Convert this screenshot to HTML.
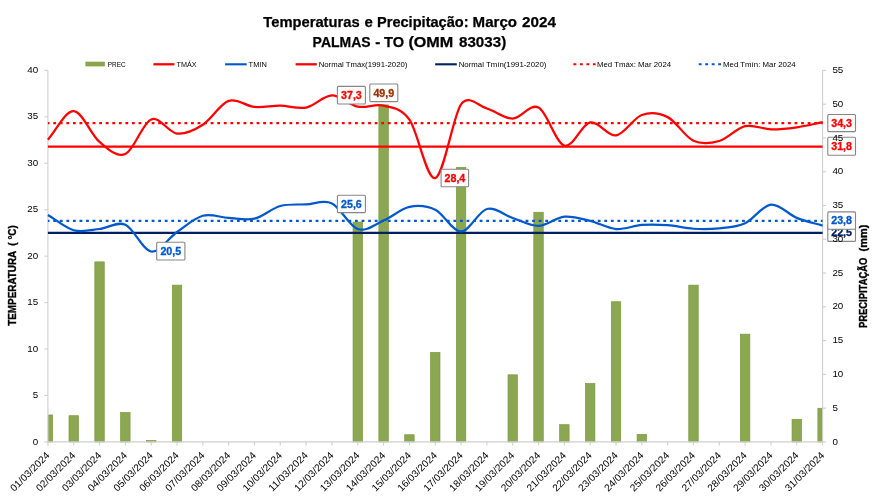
<!DOCTYPE html><html><head><meta charset="utf-8"><title>Temperaturas e Precipitação</title>
<style>html,body{margin:0;padding:0;background:#fff;overflow:hidden}svg{display:block;will-change:transform}text{font-family:"Liberation Sans", sans-serif;fill:#000}</style></head><body>
<svg width="874" height="497" viewBox="0 0 874 497">
<rect width="874" height="497" fill="#fff"/>
<text x="263.3" y="26.7" font-size="14.5" font-weight="bold" stroke="#000" stroke-width="0.25" textLength="96.3" lengthAdjust="spacingAndGlyphs">Temperaturas</text>
<text x="364.6" y="26.7" font-size="14.5" font-weight="bold" stroke="#000" stroke-width="0.25" textLength="8.3" lengthAdjust="spacingAndGlyphs">e</text>
<text x="377.0" y="26.7" font-size="14.5" font-weight="bold" stroke="#000" stroke-width="0.25" textLength="91.6" lengthAdjust="spacingAndGlyphs">Precipitação:</text>
<text x="472.6" y="26.7" font-size="14.5" font-weight="bold" stroke="#000" stroke-width="0.25" textLength="44.4" lengthAdjust="spacingAndGlyphs">Março</text>
<text x="522.0" y="26.7" font-size="14.5" font-weight="bold" stroke="#000" stroke-width="0.25" textLength="33.9" lengthAdjust="spacingAndGlyphs">2024</text>
<text x="312.6" y="47.0" font-size="14.5" font-weight="bold" stroke="#000" stroke-width="0.25" textLength="58.0" lengthAdjust="spacingAndGlyphs">PALMAS</text>
<text x="375.2" y="47.0" font-size="14.5" font-weight="bold" stroke="#000" stroke-width="0.25" textLength="5.1" lengthAdjust="spacingAndGlyphs">-</text>
<text x="384.0" y="47.0" font-size="14.5" font-weight="bold" stroke="#000" stroke-width="0.25" textLength="20.0" lengthAdjust="spacingAndGlyphs">TO</text>
<text x="408.4" y="47.0" font-size="14.5" font-weight="bold" stroke="#000" stroke-width="0.25" textLength="44.9" lengthAdjust="spacingAndGlyphs">(OMM</text>
<text x="459.0" y="47.0" font-size="14.5" font-weight="bold" stroke="#000" stroke-width="0.25" textLength="47.2" lengthAdjust="spacingAndGlyphs">83033)</text>
<rect x="48.25" y="414.96" width="4.37" height="26.94" fill="#8BA751" stroke="#7B993F" stroke-width="0.7"/>
<rect x="69.00" y="415.70" width="9.45" height="26.20" fill="#8BA751" stroke="#7B993F" stroke-width="0.7"/>
<rect x="94.82" y="261.90" width="9.45" height="180.00" fill="#8BA751" stroke="#7B993F" stroke-width="0.7"/>
<rect x="120.64" y="412.53" width="9.45" height="29.37" fill="#8BA751" stroke="#7B993F" stroke-width="0.7"/>
<rect x="146.47" y="440.56" width="9.45" height="1.34" fill="#8BA751" stroke="#7B993F" stroke-width="0.7"/>
<rect x="172.29" y="285.14" width="9.45" height="156.76" fill="#8BA751" stroke="#7B993F" stroke-width="0.7"/>
<rect x="353.06" y="222.05" width="9.45" height="219.85" fill="#8BA751" stroke="#7B993F" stroke-width="0.7"/>
<rect x="378.88" y="104.86" width="9.45" height="337.04" fill="#8BA751" stroke="#7B993F" stroke-width="0.7"/>
<rect x="404.70" y="434.75" width="9.45" height="7.15" fill="#8BA751" stroke="#7B993F" stroke-width="0.7"/>
<rect x="430.53" y="352.41" width="9.45" height="89.49" fill="#8BA751" stroke="#7B993F" stroke-width="0.7"/>
<rect x="456.35" y="167.34" width="9.45" height="274.56" fill="#8BA751" stroke="#7B993F" stroke-width="0.7"/>
<rect x="508.00" y="374.84" width="9.45" height="67.06" fill="#8BA751" stroke="#7B993F" stroke-width="0.7"/>
<rect x="533.82" y="212.26" width="9.45" height="229.64" fill="#8BA751" stroke="#7B993F" stroke-width="0.7"/>
<rect x="559.64" y="424.69" width="9.45" height="17.21" fill="#8BA751" stroke="#7B993F" stroke-width="0.7"/>
<rect x="585.46" y="383.49" width="9.45" height="58.41" fill="#8BA751" stroke="#7B993F" stroke-width="0.7"/>
<rect x="611.29" y="301.76" width="9.45" height="140.14" fill="#8BA751" stroke="#7B993F" stroke-width="0.7"/>
<rect x="637.11" y="434.35" width="9.45" height="7.55" fill="#8BA751" stroke="#7B993F" stroke-width="0.7"/>
<rect x="688.76" y="285.14" width="9.45" height="156.76" fill="#8BA751" stroke="#7B993F" stroke-width="0.7"/>
<rect x="740.40" y="334.18" width="9.45" height="107.72" fill="#8BA751" stroke="#7B993F" stroke-width="0.7"/>
<rect x="792.05" y="419.28" width="9.45" height="22.62" fill="#8BA751" stroke="#7B993F" stroke-width="0.7"/>
<rect x="817.88" y="408.27" width="4.38" height="33.63" fill="#8BA751" stroke="#7B993F" stroke-width="0.7"/>
<g stroke="#CFCFCF" stroke-width="1.1" fill="none">
<line x1="47.9" y1="70.4" x2="47.9" y2="441.9"/>
<line x1="822.6" y1="70.4" x2="822.6" y2="441.9"/>
<line x1="47.9" y1="441.9" x2="822.6" y2="441.9"/>
<line x1="44.4" y1="441.90" x2="47.9" y2="441.90"/>
<line x1="44.4" y1="395.46" x2="47.9" y2="395.46"/>
<line x1="44.4" y1="349.02" x2="47.9" y2="349.02"/>
<line x1="44.4" y1="302.59" x2="47.9" y2="302.59"/>
<line x1="44.4" y1="256.15" x2="47.9" y2="256.15"/>
<line x1="44.4" y1="209.71" x2="47.9" y2="209.71"/>
<line x1="44.4" y1="163.27" x2="47.9" y2="163.27"/>
<line x1="44.4" y1="116.84" x2="47.9" y2="116.84"/>
<line x1="44.4" y1="70.40" x2="47.9" y2="70.40"/>
<line x1="822.6" y1="441.90" x2="826.1" y2="441.90"/>
<line x1="822.6" y1="408.13" x2="826.1" y2="408.13"/>
<line x1="822.6" y1="374.35" x2="826.1" y2="374.35"/>
<line x1="822.6" y1="340.58" x2="826.1" y2="340.58"/>
<line x1="822.6" y1="306.81" x2="826.1" y2="306.81"/>
<line x1="822.6" y1="273.04" x2="826.1" y2="273.04"/>
<line x1="822.6" y1="239.26" x2="826.1" y2="239.26"/>
<line x1="822.6" y1="205.49" x2="826.1" y2="205.49"/>
<line x1="822.6" y1="171.72" x2="826.1" y2="171.72"/>
<line x1="822.6" y1="137.95" x2="826.1" y2="137.95"/>
<line x1="822.6" y1="104.17" x2="826.1" y2="104.17"/>
<line x1="822.6" y1="70.40" x2="826.1" y2="70.40"/>
<line x1="47.90" y1="441.9" x2="47.90" y2="445.4"/>
<line x1="73.72" y1="441.9" x2="73.72" y2="445.4"/>
<line x1="99.55" y1="441.9" x2="99.55" y2="445.4"/>
<line x1="125.37" y1="441.9" x2="125.37" y2="445.4"/>
<line x1="151.19" y1="441.9" x2="151.19" y2="445.4"/>
<line x1="177.02" y1="441.9" x2="177.02" y2="445.4"/>
<line x1="202.84" y1="441.9" x2="202.84" y2="445.4"/>
<line x1="228.66" y1="441.9" x2="228.66" y2="445.4"/>
<line x1="254.49" y1="441.9" x2="254.49" y2="445.4"/>
<line x1="280.31" y1="441.9" x2="280.31" y2="445.4"/>
<line x1="306.13" y1="441.9" x2="306.13" y2="445.4"/>
<line x1="331.96" y1="441.9" x2="331.96" y2="445.4"/>
<line x1="357.78" y1="441.9" x2="357.78" y2="445.4"/>
<line x1="383.60" y1="441.9" x2="383.60" y2="445.4"/>
<line x1="409.43" y1="441.9" x2="409.43" y2="445.4"/>
<line x1="435.25" y1="441.9" x2="435.25" y2="445.4"/>
<line x1="461.07" y1="441.9" x2="461.07" y2="445.4"/>
<line x1="486.90" y1="441.9" x2="486.90" y2="445.4"/>
<line x1="512.72" y1="441.9" x2="512.72" y2="445.4"/>
<line x1="538.54" y1="441.9" x2="538.54" y2="445.4"/>
<line x1="564.37" y1="441.9" x2="564.37" y2="445.4"/>
<line x1="590.19" y1="441.9" x2="590.19" y2="445.4"/>
<line x1="616.01" y1="441.9" x2="616.01" y2="445.4"/>
<line x1="641.84" y1="441.9" x2="641.84" y2="445.4"/>
<line x1="667.66" y1="441.9" x2="667.66" y2="445.4"/>
<line x1="693.48" y1="441.9" x2="693.48" y2="445.4"/>
<line x1="719.31" y1="441.9" x2="719.31" y2="445.4"/>
<line x1="745.13" y1="441.9" x2="745.13" y2="445.4"/>
<line x1="770.95" y1="441.9" x2="770.95" y2="445.4"/>
<line x1="796.78" y1="441.9" x2="796.78" y2="445.4"/>
<line x1="822.60" y1="441.9" x2="822.60" y2="445.4"/>
</g>
<line x1="47.9" y1="146.56" x2="822.6" y2="146.56" stroke="#FF0000" stroke-width="2.15"/>
<line x1="47.9" y1="232.93" x2="822.6" y2="232.93" stroke="#002060" stroke-width="2.35"/>
<line x1="47.9" y1="123.06" x2="822.6" y2="123.06" stroke="#FF0000" stroke-width="2.3" stroke-dasharray="2.8 3.76" stroke-dashoffset="1.2"/>
<line x1="47.9" y1="220.95" x2="822.6" y2="220.95" stroke="#0058CC" stroke-width="2.2" stroke-dasharray="2.8 3.76" stroke-dashoffset="1.2"/>
<path d="M47.90,139.68 C56.51,130.18 65.12,110.80 73.72,111.17 C82.33,111.54 90.94,134.78 99.55,141.91 C108.15,149.05 116.76,157.73 125.37,153.99 C133.98,150.24 142.59,122.84 151.19,119.44 C159.80,116.03 168.41,132.67 177.02,133.55 C185.62,134.44 194.23,130.18 202.84,124.73 C211.45,119.28 220.06,103.82 228.66,100.86 C237.27,97.91 245.88,106.19 254.49,106.99 C263.09,107.80 271.70,105.60 280.31,105.69 C288.92,105.79 297.53,109.25 306.13,107.55 C314.74,105.85 323.35,95.63 331.96,95.48 C340.56,95.32 349.17,104.92 357.78,106.62 C366.39,108.32 375.00,103.53 383.60,105.69 C392.21,107.86 400.91,107.68 409.43,119.62 C417.94,131.57 426.64,180.69 435.25,178.13 C443.86,175.58 453.28,114.81 461.07,104.30 C468.86,93.79 478.29,106.08 486.90,108.48 C495.50,110.88 504.11,118.85 512.72,118.69 C521.33,118.54 529.94,103.06 538.54,107.55 C547.15,112.04 555.76,143.15 564.37,145.63 C572.97,148.11 581.58,124.11 590.19,122.41 C598.80,120.71 607.41,136.65 616.01,135.41 C624.62,134.17 633.23,118.03 641.84,114.98 C650.44,111.93 659.05,112.81 667.66,117.12 C676.27,121.42 684.88,136.82 693.48,140.80 C702.09,144.78 710.70,143.43 719.31,140.98 C727.91,138.54 736.52,128.06 745.13,126.12 C753.74,124.19 762.35,129.17 770.95,129.38 C779.56,129.58 788.17,128.52 796.78,127.33 C805.38,126.14 813.99,123.93 822.60,122.22" fill="none" stroke="#FF0000" stroke-width="2.25" stroke-linecap="butt" stroke-linejoin="round"/>
<path d="M47.90,215.01 C56.51,220.08 65.12,227.90 73.72,230.24 C82.33,232.58 90.94,229.96 99.55,229.03 C108.15,228.10 116.76,220.92 125.37,224.67 C133.98,228.41 142.59,250.28 151.19,251.51 C159.80,252.73 168.41,237.96 177.02,232.00 C185.62,226.04 194.23,218.10 202.84,215.75 C211.45,213.40 220.06,217.41 228.66,217.89 C237.27,218.37 245.88,220.61 254.49,218.63 C263.09,216.65 271.70,208.37 280.31,206.00 C288.92,203.63 297.53,204.85 306.13,204.42 C314.74,203.99 323.35,199.30 331.96,203.40 C340.56,207.50 349.17,226.17 357.78,229.03 C366.39,231.89 375.00,224.26 383.60,220.58 C392.21,216.89 400.82,208.74 409.43,206.93 C418.03,205.12 426.64,205.63 435.25,209.71 C443.86,213.80 452.47,231.57 461.07,231.45 C469.68,231.32 478.29,211.20 486.90,208.97 C495.50,206.74 504.11,215.25 512.72,218.07 C521.33,220.89 529.94,226.10 538.54,225.87 C547.15,225.64 555.76,217.51 564.37,216.68 C572.97,215.84 581.58,218.80 590.19,220.86 C598.80,222.92 607.41,228.35 616.01,229.03 C624.62,229.71 633.23,225.58 641.84,224.94 C650.44,224.31 659.05,224.59 667.66,225.22 C676.27,225.86 684.88,228.24 693.48,228.75 C702.09,229.26 710.70,229.22 719.31,228.29 C727.91,227.36 736.52,227.13 745.13,223.18 C753.74,219.23 762.35,205.49 770.95,204.60 C779.56,203.72 788.17,214.39 796.78,217.89 C805.38,221.38 813.99,223.02 822.60,225.59" fill="none" stroke="#0058CC" stroke-width="2.2" stroke-linecap="butt" stroke-linejoin="round"/>
<rect x="827.8" y="223.9" width="27.7" height="17.5" rx="1" fill="#fff" stroke="#868686" stroke-width="1.1"/>
<text x="841.6" y="236.4" text-anchor="middle" font-size="10.1" font-weight="bold" textLength="20.8" lengthAdjust="spacingAndGlyphs" style="fill:#002060;stroke:#002060;stroke-width:0.3">22,5</text>
<rect x="827.8" y="211.9" width="27.7" height="17.4" rx="1" fill="#fff" stroke="#868686" stroke-width="1.1"/>
<text x="841.6" y="224.4" text-anchor="middle" font-size="10.1" font-weight="bold" textLength="20.8" lengthAdjust="spacingAndGlyphs" style="fill:#0058CC;stroke:#0058CC;stroke-width:0.3">23,8</text>
<rect x="827.8" y="114.5" width="27.7" height="17.1" rx="1" fill="#fff" stroke="#868686" stroke-width="1.1"/>
<text x="841.6" y="126.8" text-anchor="middle" font-size="10.1" font-weight="bold" textLength="20.8" lengthAdjust="spacingAndGlyphs" style="fill:#FF0000;stroke:#FF0000;stroke-width:0.3">34,3</text>
<rect x="827.8" y="137.2" width="27.7" height="18.0" rx="1" fill="#fff" stroke="#868686" stroke-width="1.1"/>
<text x="841.6" y="149.9" text-anchor="middle" font-size="10.1" font-weight="bold" textLength="20.8" lengthAdjust="spacingAndGlyphs" style="fill:#FF0000;stroke:#FF0000;stroke-width:0.3">31,8</text>
<rect x="337.4" y="86.4" width="28.0" height="17.6" rx="1" fill="#fff" stroke="#868686" stroke-width="1.1"/>
<text x="351.4" y="99.0" text-anchor="middle" font-size="10.1" font-weight="bold" textLength="20.8" lengthAdjust="spacingAndGlyphs" style="fill:#FF0000;stroke:#FF0000;stroke-width:0.3">37,3</text>
<rect x="369.8" y="84.0" width="28.0" height="17.6" rx="1" fill="#fff" stroke="#868686" stroke-width="1.1"/>
<text x="383.8" y="96.5" text-anchor="middle" font-size="10.1" font-weight="bold" textLength="20.8" lengthAdjust="spacingAndGlyphs" style="fill:#993300;stroke:#993300;stroke-width:0.3">49,9</text>
<rect x="441.1" y="169.3" width="27.5" height="17.4" rx="1" fill="#fff" stroke="#868686" stroke-width="1.1"/>
<text x="454.9" y="181.8" text-anchor="middle" font-size="10.1" font-weight="bold" textLength="20.8" lengthAdjust="spacingAndGlyphs" style="fill:#FF0000;stroke:#FF0000;stroke-width:0.3">28,4</text>
<rect x="156.7" y="242.3" width="28.2" height="17.7" rx="1" fill="#fff" stroke="#868686" stroke-width="1.1"/>
<text x="170.8" y="254.9" text-anchor="middle" font-size="10.1" font-weight="bold" textLength="20.8" lengthAdjust="spacingAndGlyphs" style="fill:#0058CC;stroke:#0058CC;stroke-width:0.3">20,5</text>
<rect x="337.4" y="195.2" width="28.0" height="17.4" rx="1" fill="#fff" stroke="#868686" stroke-width="1.1"/>
<text x="351.4" y="207.6" text-anchor="middle" font-size="10.1" font-weight="bold" textLength="20.8" lengthAdjust="spacingAndGlyphs" style="fill:#0058CC;stroke:#0058CC;stroke-width:0.3">25,6</text>
<text x="38.2" y="444.5" text-anchor="end" font-size="9.8">0</text>
<text x="38.2" y="398.1" text-anchor="end" font-size="9.8">5</text>
<text x="38.2" y="351.6" text-anchor="end" font-size="9.8">10</text>
<text x="38.2" y="305.2" text-anchor="end" font-size="9.8">15</text>
<text x="38.2" y="258.8" text-anchor="end" font-size="9.8">20</text>
<text x="38.2" y="212.3" text-anchor="end" font-size="9.8">25</text>
<text x="38.2" y="165.9" text-anchor="end" font-size="9.8">30</text>
<text x="38.2" y="119.4" text-anchor="end" font-size="9.8">35</text>
<text x="38.2" y="73.0" text-anchor="end" font-size="9.8">40</text>
<text x="832.4" y="444.5" font-size="9.8">0</text>
<text x="832.4" y="410.7" font-size="9.8">5</text>
<text x="832.4" y="377.0" font-size="9.8">10</text>
<text x="832.4" y="343.2" font-size="9.8">15</text>
<text x="832.4" y="309.4" font-size="9.8">20</text>
<text x="832.4" y="275.6" font-size="9.8">25</text>
<text x="832.4" y="241.9" font-size="9.8">30</text>
<text x="832.4" y="208.1" font-size="9.8">35</text>
<text x="832.4" y="174.3" font-size="9.8">40</text>
<text x="832.4" y="140.5" font-size="9.8">45</text>
<text x="832.4" y="106.8" font-size="9.8">50</text>
<text x="832.4" y="73.0" font-size="9.8">55</text>
<text transform="translate(50.30,455.9) rotate(-45)" text-anchor="end" font-size="10" textLength="51" lengthAdjust="spacingAndGlyphs">01/03/2024</text>
<text transform="translate(76.12,455.9) rotate(-45)" text-anchor="end" font-size="10" textLength="51" lengthAdjust="spacingAndGlyphs">02/03/2024</text>
<text transform="translate(101.95,455.9) rotate(-45)" text-anchor="end" font-size="10" textLength="51" lengthAdjust="spacingAndGlyphs">03/03/2024</text>
<text transform="translate(127.77,455.9) rotate(-45)" text-anchor="end" font-size="10" textLength="51" lengthAdjust="spacingAndGlyphs">04/03/2024</text>
<text transform="translate(153.59,455.9) rotate(-45)" text-anchor="end" font-size="10" textLength="51" lengthAdjust="spacingAndGlyphs">05/03/2024</text>
<text transform="translate(179.42,455.9) rotate(-45)" text-anchor="end" font-size="10" textLength="51" lengthAdjust="spacingAndGlyphs">06/03/2024</text>
<text transform="translate(205.24,455.9) rotate(-45)" text-anchor="end" font-size="10" textLength="51" lengthAdjust="spacingAndGlyphs">07/03/2024</text>
<text transform="translate(231.06,455.9) rotate(-45)" text-anchor="end" font-size="10" textLength="51" lengthAdjust="spacingAndGlyphs">08/03/2024</text>
<text transform="translate(256.89,455.9) rotate(-45)" text-anchor="end" font-size="10" textLength="51" lengthAdjust="spacingAndGlyphs">09/03/2024</text>
<text transform="translate(282.71,455.9) rotate(-45)" text-anchor="end" font-size="10" textLength="51" lengthAdjust="spacingAndGlyphs">10/03/2024</text>
<text transform="translate(308.53,455.9) rotate(-45)" text-anchor="end" font-size="10" textLength="51" lengthAdjust="spacingAndGlyphs">11/03/2024</text>
<text transform="translate(334.36,455.9) rotate(-45)" text-anchor="end" font-size="10" textLength="51" lengthAdjust="spacingAndGlyphs">12/03/2024</text>
<text transform="translate(360.18,455.9) rotate(-45)" text-anchor="end" font-size="10" textLength="51" lengthAdjust="spacingAndGlyphs">13/03/2024</text>
<text transform="translate(386.00,455.9) rotate(-45)" text-anchor="end" font-size="10" textLength="51" lengthAdjust="spacingAndGlyphs">14/03/2024</text>
<text transform="translate(411.83,455.9) rotate(-45)" text-anchor="end" font-size="10" textLength="51" lengthAdjust="spacingAndGlyphs">15/03/2024</text>
<text transform="translate(437.65,455.9) rotate(-45)" text-anchor="end" font-size="10" textLength="51" lengthAdjust="spacingAndGlyphs">16/03/2024</text>
<text transform="translate(463.47,455.9) rotate(-45)" text-anchor="end" font-size="10" textLength="51" lengthAdjust="spacingAndGlyphs">17/03/2024</text>
<text transform="translate(489.30,455.9) rotate(-45)" text-anchor="end" font-size="10" textLength="51" lengthAdjust="spacingAndGlyphs">18/03/2024</text>
<text transform="translate(515.12,455.9) rotate(-45)" text-anchor="end" font-size="10" textLength="51" lengthAdjust="spacingAndGlyphs">19/03/2024</text>
<text transform="translate(540.94,455.9) rotate(-45)" text-anchor="end" font-size="10" textLength="51" lengthAdjust="spacingAndGlyphs">20/03/2024</text>
<text transform="translate(566.77,455.9) rotate(-45)" text-anchor="end" font-size="10" textLength="51" lengthAdjust="spacingAndGlyphs">21/03/2024</text>
<text transform="translate(592.59,455.9) rotate(-45)" text-anchor="end" font-size="10" textLength="51" lengthAdjust="spacingAndGlyphs">22/03/2024</text>
<text transform="translate(618.41,455.9) rotate(-45)" text-anchor="end" font-size="10" textLength="51" lengthAdjust="spacingAndGlyphs">23/03/2024</text>
<text transform="translate(644.24,455.9) rotate(-45)" text-anchor="end" font-size="10" textLength="51" lengthAdjust="spacingAndGlyphs">24/03/2024</text>
<text transform="translate(670.06,455.9) rotate(-45)" text-anchor="end" font-size="10" textLength="51" lengthAdjust="spacingAndGlyphs">25/03/2024</text>
<text transform="translate(695.88,455.9) rotate(-45)" text-anchor="end" font-size="10" textLength="51" lengthAdjust="spacingAndGlyphs">26/03/2024</text>
<text transform="translate(721.71,455.9) rotate(-45)" text-anchor="end" font-size="10" textLength="51" lengthAdjust="spacingAndGlyphs">27/03/2024</text>
<text transform="translate(747.53,455.9) rotate(-45)" text-anchor="end" font-size="10" textLength="51" lengthAdjust="spacingAndGlyphs">28/03/2024</text>
<text transform="translate(773.35,455.9) rotate(-45)" text-anchor="end" font-size="10" textLength="51" lengthAdjust="spacingAndGlyphs">29/03/2024</text>
<text transform="translate(799.18,455.9) rotate(-45)" text-anchor="end" font-size="10" textLength="51" lengthAdjust="spacingAndGlyphs">30/03/2024</text>
<text transform="translate(825.00,455.9) rotate(-45)" text-anchor="end" font-size="10" textLength="51" lengthAdjust="spacingAndGlyphs">31/03/2024</text>
<text transform="translate(15.7,275.5) rotate(-90)" text-anchor="middle" font-size="11" font-weight="bold" stroke="#000" stroke-width="0.35" textLength="100.6" lengthAdjust="spacingAndGlyphs" xml:space="preserve">TEMPERATURA  ( °C)</text>
<text transform="translate(866.6,328.0) rotate(-90)" font-size="11" font-weight="bold" stroke="#000" stroke-width="0.35" textLength="70.3" lengthAdjust="spacingAndGlyphs">PRECIPITAÇÃO</text>
<text transform="translate(866.6,251.4) rotate(-90)" font-size="11" font-weight="bold" stroke="#000" stroke-width="0.35" textLength="26.8" lengthAdjust="spacingAndGlyphs">(mm)</text>
<rect x="85.4" y="61.7" width="19.5" height="4.7" fill="#89A54E"/>
<text x="107.7" y="66.6" font-size="7.9" textLength="17.9" lengthAdjust="spacingAndGlyphs">PREC</text>
<line x1="153.4" y1="64.3" x2="174.4" y2="64.3" stroke="#FF0000" stroke-width="2.3"/>
<text x="176.6" y="66.6" font-size="7.9" textLength="20.1" lengthAdjust="spacingAndGlyphs">TMÁX</text>
<line x1="225.1" y1="64.3" x2="246.7" y2="64.3" stroke="#0058CC" stroke-width="2.1"/>
<text x="248.6" y="66.6" font-size="7.9" textLength="18.2" lengthAdjust="spacingAndGlyphs">TMIN</text>
<line x1="295.6" y1="64.3" x2="316.8" y2="64.3" stroke="#FF0000" stroke-width="2.3"/>
<text x="318.7" y="66.6" font-size="7.9" textLength="88.7" lengthAdjust="spacingAndGlyphs">Normal Tmáx(1991-2020)</text>
<line x1="435.2" y1="64.3" x2="456.8" y2="64.3" stroke="#002060" stroke-width="2.1"/>
<text x="458.7" y="66.6" font-size="7.9" textLength="87.7" lengthAdjust="spacingAndGlyphs">Normal Tmín(1991-2020)</text>
<line x1="573.4" y1="64.3" x2="595.6" y2="64.3" stroke="#FF0000" stroke-width="2.1" stroke-dasharray="2.9 3.6"/>
<text x="597.0" y="66.6" font-size="7.9" textLength="74.1" lengthAdjust="spacingAndGlyphs">Med Tmáx: Mar 2024</text>
<line x1="698.7" y1="64.3" x2="721.0" y2="64.3" stroke="#0058CC" stroke-width="2.1" stroke-dasharray="2.9 3.6"/>
<text x="723.0" y="66.6" font-size="7.9" textLength="72.6" lengthAdjust="spacingAndGlyphs">Med Tmín: Mar 2024</text>
</svg></body></html>
